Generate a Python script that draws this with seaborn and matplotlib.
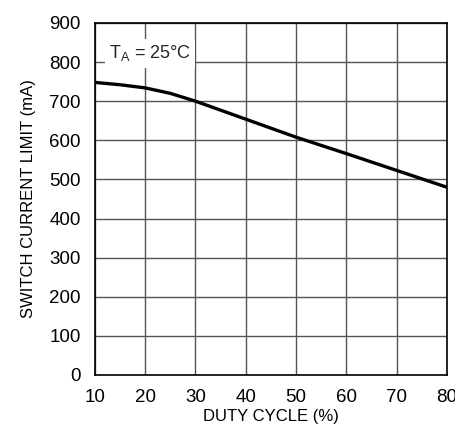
import matplotlib
matplotlib.use("Agg")
import matplotlib.pyplot as plt
import seaborn as sns
import pandas as pd

duty_cycle = [10, 15, 20, 25, 30, 35, 40, 50, 60, 70, 80]
current_limit = [748, 742, 734, 720, 700, 677, 654, 608, 566, 523, 480]
x_ticks = [10, 20, 30, 40, 50, 60, 70, 80]
y_ticks = [0, 100, 200, 300, 400, 500, 600, 700, 800, 900]

sns.set_theme(style="white")
plt.rcParams['font.family'] = ['Liberation Sans', 'DejaVu Sans']
plt.rcParams['mathtext.fontset'] = 'custom'
plt.rcParams['mathtext.rm'] = 'Liberation Sans'

df = pd.DataFrame({"duty": duty_cycle, "limit": current_limit})

fig = plt.figure(figsize=(4.56, 4.29), dpi=100)
ax = fig.add_axes([0.208, 0.126, 0.772, 0.8205])
sns.lineplot(data=df, x="duty", y="limit", ax=ax, color="black", linewidth=2.4)

ax.set_xlim(10, 80)
ax.set_ylim(0, 900)
ax.set_xticks(x_ticks)
ax.set_yticks(y_ticks)
ax.grid(True, color="#555555", linewidth=1.0)
ax.tick_params(axis="both", length=0, labelsize=13.5, colors="black")
ax.tick_params(axis="y", pad=10)
ax.tick_params(axis="x", pad=10)
for s in ax.spines.values():
    s.set_color("black")
    s.set_linewidth(1.2)
ax.set_xlabel("DUTY CYCLE (%)", fontsize=12, color="black")
ax.xaxis.set_label_coords(0.5, -0.097)
ax.set_ylabel("SWITCH CURRENT LIMIT (mA)", fontsize=12, color="black", labelpad=10)

ax.text(21, 822, r"T$_\mathregular{A}$ = 25°C", fontsize=13, ha="center", va="center",
        bbox=dict(facecolor="white", edgecolor="none", pad=3), zorder=5)

fig.savefig("out.png", dpi=100)
